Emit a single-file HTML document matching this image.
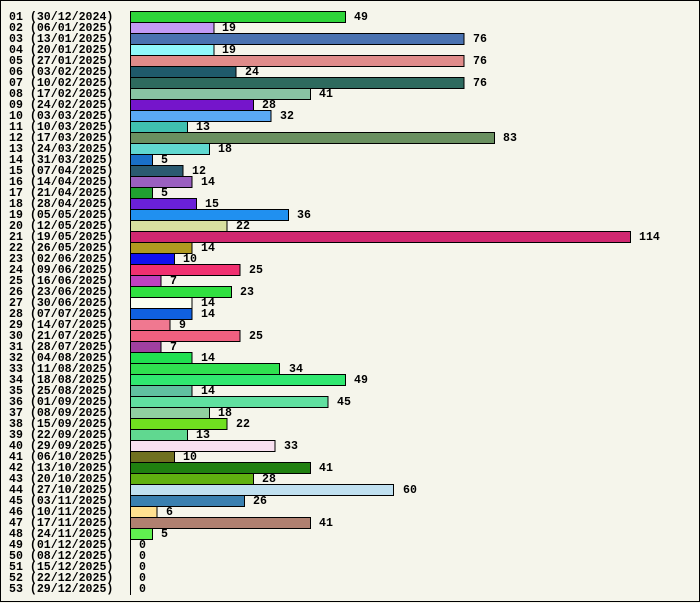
<!DOCTYPE html>
<html><head><style>
html,body{margin:0;padding:0;background:#f5f5eb;}
svg{display:block}
text{font-family:"Liberation Mono",monospace;font-weight:bold;font-size:11.6px;fill:#000}
rect.b{stroke:#000;stroke-width:1}
</style></head><body>
<svg width="700" height="603" viewBox="0 0 700 603" xmlns="http://www.w3.org/2000/svg">
<rect x="0.5" y="0.5" width="699" height="601" fill="#f5f5eb" stroke="#000"/>
<g shape-rendering="crispEdges">
<rect class="b" x="130.5" y="11.5" width="214.9" height="11" fill="#2ed43a"/>
<rect class="b" x="130.5" y="22.5" width="83.3" height="11" fill="#c29af5"/>
<rect class="b" x="130.5" y="33.5" width="333.3" height="11" fill="#4a72b0"/>
<rect class="b" x="130.5" y="44.5" width="83.3" height="11" fill="#90f8fb"/>
<rect class="b" x="130.5" y="55.5" width="333.3" height="11" fill="#e08c8a"/>
<rect class="b" x="130.5" y="66.5" width="105.3" height="11" fill="#1f5a6b"/>
<rect class="b" x="130.5" y="77.5" width="333.3" height="11" fill="#2e6a5e"/>
<rect class="b" x="130.5" y="88.5" width="179.8" height="11" fill="#88c4a4"/>
<rect class="b" x="130.5" y="99.5" width="122.8" height="11" fill="#7515cb"/>
<rect class="b" x="130.5" y="110.5" width="140.4" height="11" fill="#5aa8f5"/>
<rect class="b" x="130.5" y="121.5" width="57" height="11" fill="#40c0b0"/>
<rect class="b" x="130.5" y="132.5" width="364" height="11" fill="#6a9060"/>
<rect class="b" x="130.5" y="143.5" width="78.9" height="11" fill="#60d8d0"/>
<rect class="b" x="130.5" y="154.5" width="21.9" height="11" fill="#1a70c8"/>
<rect class="b" x="130.5" y="165.5" width="52.6" height="11" fill="#2a5a70"/>
<rect class="b" x="130.5" y="176.5" width="61.4" height="11" fill="#9a60c0"/>
<rect class="b" x="130.5" y="187.5" width="21.9" height="11" fill="#20a030"/>
<rect class="b" x="130.5" y="198.5" width="65.8" height="11" fill="#6a20d8"/>
<rect class="b" x="130.5" y="209.5" width="157.9" height="11" fill="#2090f0"/>
<rect class="b" x="130.5" y="220.5" width="96.5" height="11" fill="#d8e0a0"/>
<rect class="b" x="130.5" y="231.5" width="500" height="11" fill="#d02870"/>
<rect class="b" x="130.5" y="242.5" width="61.4" height="11" fill="#b09a20"/>
<rect class="b" x="130.5" y="253.5" width="43.9" height="11" fill="#1010f0"/>
<rect class="b" x="130.5" y="264.5" width="109.6" height="11" fill="#f03070"/>
<rect class="b" x="130.5" y="275.5" width="30.7" height="11" fill="#c040c0"/>
<rect class="b" x="130.5" y="286.5" width="100.9" height="11" fill="#30e040"/>
<rect class="b" x="130.5" y="297.5" width="61.4" height="11" fill="#fafff0"/>
<rect class="b" x="130.5" y="308.5" width="61.4" height="11" fill="#1060e0"/>
<rect class="b" x="130.5" y="319.5" width="39.5" height="11" fill="#f07890"/>
<rect class="b" x="130.5" y="330.5" width="109.6" height="11" fill="#f06080"/>
<rect class="b" x="130.5" y="341.5" width="30.7" height="11" fill="#a040a0"/>
<rect class="b" x="130.5" y="352.5" width="61.4" height="11" fill="#20e050"/>
<rect class="b" x="130.5" y="363.5" width="149.1" height="11" fill="#30e050"/>
<rect class="b" x="130.5" y="374.5" width="214.9" height="11" fill="#30e870"/>
<rect class="b" x="130.5" y="385.5" width="61.4" height="11" fill="#60c0a0"/>
<rect class="b" x="130.5" y="396.5" width="197.4" height="11" fill="#60e0a0"/>
<rect class="b" x="130.5" y="407.5" width="78.9" height="11" fill="#90d0a0"/>
<rect class="b" x="130.5" y="418.5" width="96.5" height="11" fill="#70e020"/>
<rect class="b" x="130.5" y="429.5" width="57" height="11" fill="#60d890"/>
<rect class="b" x="130.5" y="440.5" width="144.7" height="11" fill="#f8e0f0"/>
<rect class="b" x="130.5" y="451.5" width="43.9" height="11" fill="#707020"/>
<rect class="b" x="130.5" y="462.5" width="179.8" height="11" fill="#208010"/>
<rect class="b" x="130.5" y="473.5" width="122.8" height="11" fill="#60b010"/>
<rect class="b" x="130.5" y="484.5" width="263.2" height="11" fill="#c0e0f0"/>
<rect class="b" x="130.5" y="495.5" width="114" height="11" fill="#3a80b0"/>
<rect class="b" x="130.5" y="506.5" width="26.3" height="11" fill="#ffe090"/>
<rect class="b" x="130.5" y="517.5" width="179.8" height="11" fill="#b08070"/>
<rect class="b" x="130.5" y="528.5" width="21.9" height="11" fill="#60f050"/>
<line x1="130.5" y1="11" x2="130.5" y2="595" stroke="#000"/>
</g>
<g>
<text x="9" y="20">01 (30/12/2024)</text><text x="354" y="20">49</text>
<text x="9" y="31">02 (06/01/2025)</text><text x="222" y="31">19</text>
<text x="9" y="42">03 (13/01/2025)</text><text x="473" y="42">76</text>
<text x="9" y="53">04 (20/01/2025)</text><text x="222" y="53">19</text>
<text x="9" y="64">05 (27/01/2025)</text><text x="473" y="64">76</text>
<text x="9" y="75">06 (03/02/2025)</text><text x="245" y="75">24</text>
<text x="9" y="86">07 (10/02/2025)</text><text x="473" y="86">76</text>
<text x="9" y="97">08 (17/02/2025)</text><text x="319" y="97">41</text>
<text x="9" y="108">09 (24/02/2025)</text><text x="262" y="108">28</text>
<text x="9" y="119">10 (03/03/2025)</text><text x="280" y="119">32</text>
<text x="9" y="130">11 (10/03/2025)</text><text x="196" y="130">13</text>
<text x="9" y="141">12 (17/03/2025)</text><text x="503" y="141">83</text>
<text x="9" y="152">13 (24/03/2025)</text><text x="218" y="152">18</text>
<text x="9" y="163">14 (31/03/2025)</text><text x="161" y="163">5</text>
<text x="9" y="174">15 (07/04/2025)</text><text x="192" y="174">12</text>
<text x="9" y="185">16 (14/04/2025)</text><text x="201" y="185">14</text>
<text x="9" y="196">17 (21/04/2025)</text><text x="161" y="196">5</text>
<text x="9" y="207">18 (28/04/2025)</text><text x="205" y="207">15</text>
<text x="9" y="218">19 (05/05/2025)</text><text x="297" y="218">36</text>
<text x="9" y="229">20 (12/05/2025)</text><text x="236" y="229">22</text>
<text x="9" y="240">21 (19/05/2025)</text><text x="639" y="240">114</text>
<text x="9" y="251">22 (26/05/2025)</text><text x="201" y="251">14</text>
<text x="9" y="262">23 (02/06/2025)</text><text x="183" y="262">10</text>
<text x="9" y="273">24 (09/06/2025)</text><text x="249" y="273">25</text>
<text x="9" y="284">25 (16/06/2025)</text><text x="170" y="284">7</text>
<text x="9" y="295">26 (23/06/2025)</text><text x="240" y="295">23</text>
<text x="9" y="306">27 (30/06/2025)</text><text x="201" y="306">14</text>
<text x="9" y="317">28 (07/07/2025)</text><text x="201" y="317">14</text>
<text x="9" y="328">29 (14/07/2025)</text><text x="179" y="328">9</text>
<text x="9" y="339">30 (21/07/2025)</text><text x="249" y="339">25</text>
<text x="9" y="350">31 (28/07/2025)</text><text x="170" y="350">7</text>
<text x="9" y="361">32 (04/08/2025)</text><text x="201" y="361">14</text>
<text x="9" y="372">33 (11/08/2025)</text><text x="289" y="372">34</text>
<text x="9" y="383">34 (18/08/2025)</text><text x="354" y="383">49</text>
<text x="9" y="394">35 (25/08/2025)</text><text x="201" y="394">14</text>
<text x="9" y="405">36 (01/09/2025)</text><text x="337" y="405">45</text>
<text x="9" y="416">37 (08/09/2025)</text><text x="218" y="416">18</text>
<text x="9" y="427">38 (15/09/2025)</text><text x="236" y="427">22</text>
<text x="9" y="438">39 (22/09/2025)</text><text x="196" y="438">13</text>
<text x="9" y="449">40 (29/09/2025)</text><text x="284" y="449">33</text>
<text x="9" y="460">41 (06/10/2025)</text><text x="183" y="460">10</text>
<text x="9" y="471">42 (13/10/2025)</text><text x="319" y="471">41</text>
<text x="9" y="482">43 (20/10/2025)</text><text x="262" y="482">28</text>
<text x="9" y="493">44 (27/10/2025)</text><text x="403" y="493">60</text>
<text x="9" y="504">45 (03/11/2025)</text><text x="253" y="504">26</text>
<text x="9" y="515">46 (10/11/2025)</text><text x="166" y="515">6</text>
<text x="9" y="526">47 (17/11/2025)</text><text x="319" y="526">41</text>
<text x="9" y="537">48 (24/11/2025)</text><text x="161" y="537">5</text>
<text x="9" y="548">49 (01/12/2025)</text><text x="139" y="548">0</text>
<text x="9" y="559">50 (08/12/2025)</text><text x="139" y="559">0</text>
<text x="9" y="570">51 (15/12/2025)</text><text x="139" y="570">0</text>
<text x="9" y="581">52 (22/12/2025)</text><text x="139" y="581">0</text>
<text x="9" y="592">53 (29/12/2025)</text><text x="139" y="592">0</text>
</g>
</svg>
</body></html>
